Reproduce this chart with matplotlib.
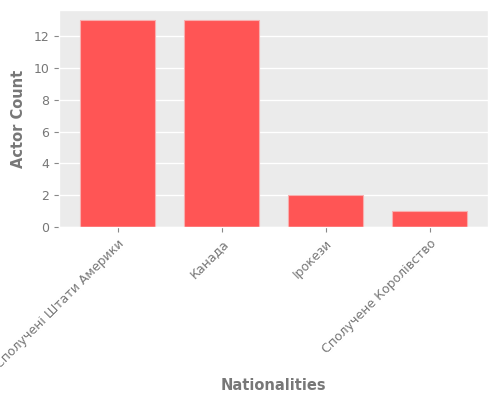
import matplotlib
matplotlib.use("Agg")
import matplotlib.pyplot as plt

# дані з графіка
nationalities = ["Сполучені Штати Америки", "Канада", "Ірокези", "Сполучене Королівство"]
actor_counts = [13, 13, 2, 1]

plt.style.use("ggplot")

fig, ax = plt.subplots(figsize=(5, 4), dpi=100)
fig.subplots_adjust(left=0.118, right=0.976, top=0.975, bottom=0.4325)

ax.set_facecolor("#EBEBEB")
ax.bar(nationalities, actor_counts, width=0.72, color="#FF5555", edgecolor="#F8AFAF", linewidth=0.8)
ax.set_xlim(-0.5625, 3.5625)
ax.grid(axis="x", visible=False)
ax.grid(axis="y", color="white", linewidth=1)

ax.set_xlabel("Nationalities", fontsize=10.5, fontweight="bold", color="#777777", labelpad=5)
ax.set_ylabel("Actor Count", fontsize=10.5, fontweight="bold", color="#777777", labelpad=5)
ax.tick_params(axis="both", labelsize=9, colors="#888888", labelcolor="#777777")
plt.setp(ax.get_xticklabels(), rotation=45, ha="right", rotation_mode="anchor")

fig.savefig("out.png", dpi=100)
